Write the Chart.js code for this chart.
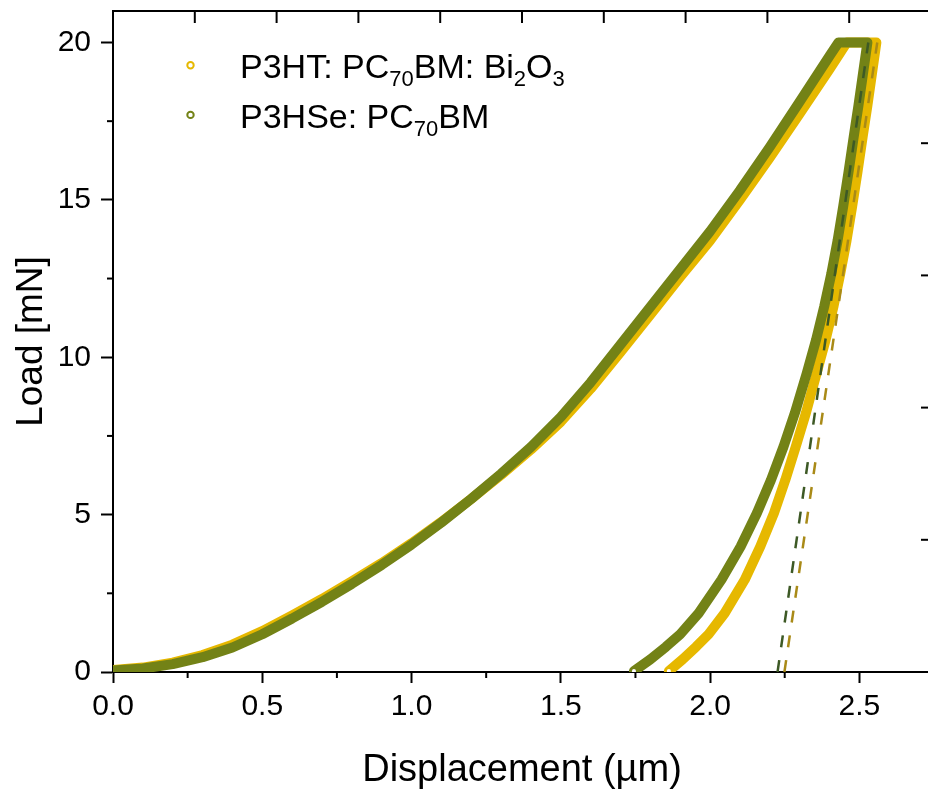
<!DOCTYPE html>
<html>
<head>
<meta charset="utf-8">
<script src="https://cdn.jsdelivr.net/npm/chart.js@4.4.1/dist/chart.umd.min.js"></script>
<style>
html,body{margin:0;padding:0;background:#fff;overflow:hidden;}
#wrap{width:940px;height:796px;}
</style>
</head>
<body>
<div id="wrap"><canvas id="loadChart" width="940" height="796"></canvas></div>
<script>
const FONT = '"Liberation Sans", Arial, Helvetica, sans-serif';

const seriesNames = ['P3HT: PC_{70}BM: Bi_{2}O_{3}', 'P3HSe: PC_{70}BM'];
const seriesColors = ['#e6b800', '#738216'];
const fitColors = ['#a98a17', '#3d5925'];

// P3HT: PC70BM: Bi2O3 -- loading, hold at 20 mN, unloading (µm, mN)
const biDisp = [0, 0.1, 0.2, 0.3, 0.4, 0.5, 0.6, 0.7, 0.8, 0.9, 1.0, 1.1, 1.2, 1.3, 1.4, 1.5, 1.6, 1.7, 1.8, 1.9, 2.0, 2.1, 2.2, 2.3, 2.4, 2.458,
  2.557, 2.542, 2.527, 2.511, 2.494, 2.476, 2.457, 2.436, 2.413, 2.387, 2.357, 2.321, 2.287, 2.252, 2.214, 2.168, 2.116, 2.049, 1.995, 1.953, 1.908, 1.862];
const biLoad = [0.06, 0.14, 0.3, 0.54, 0.87, 1.3, 1.8, 2.32, 2.88, 3.46, 4.09, 4.77, 5.5, 6.26, 7.07, 7.95, 9.0, 10.16, 11.35, 12.55, 13.71, 15.0, 16.34, 17.74, 19.15, 20,
  20, 19, 18, 17, 15.9, 14.8, 13.7, 12.65, 11.6, 10.55, 9.5, 8.23, 7.16, 6.1, 5.05, 3.98, 2.93, 1.87, 1.2, 0.8, 0.4, 0.03];

// P3HSe: PC70BM
const seDisp = [0, 0.1, 0.2, 0.3, 0.4, 0.5, 0.6, 0.7, 0.8, 0.9, 1.0, 1.1, 1.2, 1.3, 1.4, 1.5, 1.6, 1.7, 1.8, 1.9, 2.0, 2.1, 2.2, 2.3, 2.4, 2.43,
  2.527, 2.512, 2.497, 2.481, 2.464, 2.446, 2.427, 2.406, 2.382, 2.355, 2.324, 2.284, 2.246, 2.204, 2.157, 2.102, 2.038, 1.962, 1.9, 1.852, 1.8, 1.745];
const seLoad = [0.05, 0.11, 0.25, 0.47, 0.78, 1.2, 1.7, 2.23, 2.8, 3.4, 4.05, 4.75, 5.5, 6.3, 7.15, 8.1, 9.2, 10.4, 11.6, 12.8, 14.0, 15.3, 16.68, 18.12, 19.57, 20,
  20, 19, 18, 17, 15.9, 14.8, 13.7, 12.65, 11.6, 10.55, 9.5, 8.23, 7.16, 6.1, 5.05, 3.98, 2.93, 1.87, 1.2, 0.8, 0.4, 0.03];

// unloading tangents (Oliver-Pharr fit)
const biFitDisp = [2.249, 2.56];
const biFitLoad = [0, 20];
const seFitDisp = [2.226, 2.53];
const seFitLoad = [0, 20];

const xStep = 0.5;
const yStep = 5;

const pts = (xs, ys) => xs.map((x, i) => ({x: x, y: ys[i]}));

// open-circle legend with subscripts
const richLegend = {
  id: 'richLegend',
  afterDraw(chart) {
    const {ctx, chartArea: a} = chart;
    ctx.save();
    seriesNames.forEach((name, k) => {
      const base = a.top + 67 + k * 49.6;
      ctx.beginPath();
      ctx.arc(a.left + 77.5, base - 12.7, 3.2, 0, Math.PI * 2);
      ctx.fillStyle = '#fff';
      ctx.fill();
      ctx.lineWidth = 2;
      ctx.strokeStyle = seriesColors[k];
      ctx.stroke();

      ctx.fillStyle = '#000';
      ctx.textBaseline = 'alphabetic';
      let x = a.left + 127;
      name.split(/_\{([^}]*)\}/).forEach((part, i) => {
        const sub = i % 2 === 1;
        ctx.font = (sub ? 22 : 34) + 'px ' + FONT;
        ctx.fillText(part, x, sub ? base + 8 : base);
        x += ctx.measureText(part).width;
      });
    });
    ctx.restore();
  }
};

// closed frame, minor ticks and the inward ticks on top/right
const frameTicks = {
  id: 'frameTicks',
  afterDraw(chart) {
    const {ctx, chartArea: a, scales} = chart;
    ctx.save();
    ctx.strokeStyle = '#000';
    ctx.lineWidth = 2;
    const seg = (x1, y1, x2, y2) => { ctx.beginPath(); ctx.moveTo(x1, y1); ctx.lineTo(x2, y2); ctx.stroke(); };

    seg(a.left - 1, a.top, a.right, a.top);
    seg(a.right, a.top, a.right, a.bottom);

    const xt = scales.x.ticks;
    for (let i = 0; i < xt.length - 1; i++) {
      const px = scales.x.getPixelForValue((xt[i].value + xt[i + 1].value) / 2);
      seg(px, a.bottom, px, a.bottom + 6);
    }
    const yt = scales.y.ticks;
    for (let i = 0; i < yt.length - 1; i++) {
      const py = scales.y.getPixelForValue((yt[i].value + yt[i + 1].value) / 2);
      seg(a.left, py, a.left - 6, py);
    }
    scales.xTop.ticks.forEach(t => {
      if (t.value <= scales.xTop.min || t.value >= scales.xTop.max) return;
      const px = scales.xTop.getPixelForValue(t.value);
      seg(px, a.top, px, a.top + 12);
    });
    scales.yRight.ticks.forEach(t => {
      if (t.value <= scales.yRight.min || t.value >= scales.yRight.max) return;
      const py = scales.yRight.getPixelForValue(t.value);
      seg(a.right, py, a.right - 10, py);
    });
    ctx.restore();
  }
};

// thick band of data points; the last (open) marker leaves a white dot
const thick = (data, color, order) => ({
  data: data,
  showLine: true,
  borderColor: color,
  backgroundColor: color,
  borderWidth: 10,
  borderJoinStyle: 'round',
  borderCapStyle: 'round',
  pointRadius: c => (c.dataIndex === data.length - 1 ? 2 : 0),
  pointBackgroundColor: '#fff',
  pointBorderWidth: 0,
  tension: 0,
  order: order
});

const dashed = (data, color) => ({
  data: data,
  showLine: true,
  borderColor: color,
  borderWidth: 2.5,
  borderDash: [12, 13],
  pointRadius: 0,
  order: 0
});

// tick labels at the ends would otherwise push the plot area inwards
const noOverhang = s => { s.paddingTop = 0; s.paddingBottom = 0; s.paddingLeft = 0; s.paddingRight = 0; };

new Chart(document.getElementById('loadChart'), {
  type: 'scatter',
  data: {
    datasets: [
      dashed(pts(biFitDisp, biFitLoad), fitColors[0]),
      dashed(pts(seFitDisp, seFitLoad), fitColors[1]),
      thick(pts(seDisp, seLoad), seriesColors[1], 1),
      thick(pts(biDisp, biLoad), seriesColors[0], 2)
    ]
  },
  options: {
    responsive: false,
    animation: false,
    layout: {padding: {top: 11, right: 9, left: 0, bottom: 0}},
    plugins: {legend: {display: false}, tooltip: {enabled: false}},
    scales: {
      x: {
        type: 'linear',
        position: 'bottom',
        min: 0,
        max: 2.74,
        afterFit: s => { s.height = 124; noOverhang(s); },
        border: {display: true, color: '#000', width: 2},
        grid: {drawOnChartArea: false, drawTicks: true, tickLength: 11, tickWidth: 2, tickColor: '#000'},
        ticks: {
          stepSize: xStep, includeBounds: false, autoSkip: false, maxRotation: 0,
          padding: 6, color: '#000', font: {family: FONT, size: 30},
          callback: v => v.toFixed(1)
        },
        title: {display: true, text: 'Displacement (µm)', color: '#000', font: {family: FONT, size: 38}, padding: {top: 0, bottom: 3}}
      },
      y: {
        type: 'linear',
        position: 'left',
        min: 0,
        max: 21,
        afterFit: s => { s.width = 113; noOverhang(s); },
        border: {display: true, color: '#000', width: 2},
        grid: {drawOnChartArea: false, drawTicks: true, tickLength: 12, tickWidth: 2, tickColor: '#000'},
        ticks: {stepSize: yStep, includeBounds: false, padding: 10, color: '#000', font: {family: FONT, size: 30}},
        title: {display: true, text: 'Load [mN]', color: '#000', font: {family: FONT, size: 37}, padding: {top: 10, bottom: 0}}
      },
      xTop: {type: 'linear', position: 'top', display: false, min: 0, max: 10, ticks: {stepSize: 1}},
      yRight: {type: 'linear', position: 'right', display: false, min: 0, max: 5, ticks: {stepSize: 1}}
    }
  },
  plugins: [frameTicks, richLegend]
});
</script>
</body>
</html>
